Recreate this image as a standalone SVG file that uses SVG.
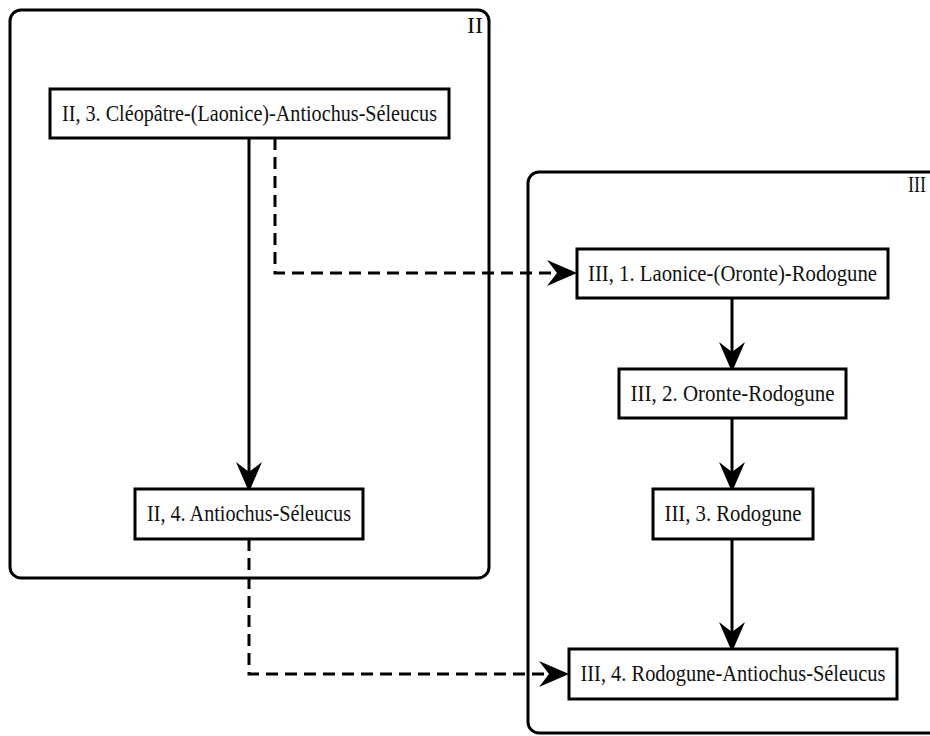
<svg xmlns="http://www.w3.org/2000/svg" width="930" height="736" viewBox="0 0 930 736">
<style>
.cluster{fill:none;stroke:#000;stroke-width:3}
.node rect{fill:#fff;stroke:#000;stroke-width:3}
text{font-family:"Liberation Serif","DejaVu Serif",serif;font-size:23px;fill:#111}
.node text{text-anchor:middle}
.edge{fill:none;stroke:#000;stroke-width:3}
.dash{stroke-dasharray:12,7}
</style>
<defs>
<marker id="vee" viewBox="0 0 30 26" markerWidth="30" markerHeight="26" refX="10" refY="13" orient="auto" markerUnits="userSpaceOnUse">
<path d="M0,0 L30,13 L0,26 L10,13 Z" fill="#000"/>
</marker>
</defs>
<rect fill="#fff" width="930" height="736"/>
<g id="cluster_II">
<rect class="cluster" x="10" y="10" width="479" height="568" rx="11"/>
<text x="483" y="33" text-anchor="end" textLength="16" lengthAdjust="spacingAndGlyphs">II</text>
</g>
<g id="cluster_III">
<rect class="cluster" x="528" y="172" width="420" height="561" rx="11"/>
<text x="926" y="192" text-anchor="end" textLength="18" lengthAdjust="spacingAndGlyphs">III</text>
</g>
<g id="edges">
<path class="edge" d="M249,138 V472" marker-end="url(#vee)"/>
<path class="edge dash" d="M275,138 V273 H557" marker-end="url(#vee)"/>
<path class="edge dash" d="M249,539 V674 H549" marker-end="url(#vee)"/>
<path class="edge" d="M732,298 V352" marker-end="url(#vee)"/>
<path class="edge" d="M732,418 V472" marker-end="url(#vee)"/>
<path class="edge" d="M732,539 V632" marker-end="url(#vee)"/>
</g>
<g id="n_II3" class="node">
<rect x="50" y="89" width="399" height="49"/>
<text x="249.5" y="121" textLength="375" lengthAdjust="spacingAndGlyphs">II, 3. Cléopâtre-(Laonice)-Antiochus-Séleucus</text>
</g>
<g id="n_II4" class="node">
<rect x="135" y="489" width="228" height="50"/>
<text x="249" y="521" textLength="204" lengthAdjust="spacingAndGlyphs">II, 4. Antiochus-Séleucus</text>
</g>
<g id="n_III1" class="node">
<rect x="577" y="249" width="311" height="49"/>
<text x="732.5" y="281" textLength="289" lengthAdjust="spacingAndGlyphs">III, 1. Laonice-(Oronte)-Rodogune</text>
</g>
<g id="n_III2" class="node">
<rect x="619" y="369" width="227" height="49"/>
<text x="732.5" y="401" textLength="204" lengthAdjust="spacingAndGlyphs">III, 2. Oronte-Rodogune</text>
</g>
<g id="n_III3" class="node">
<rect x="653" y="489" width="160" height="50"/>
<text x="733" y="521" textLength="137" lengthAdjust="spacingAndGlyphs">III, 3. Rodogune</text>
</g>
<g id="n_III4" class="node">
<rect x="569" y="649" width="328" height="50"/>
<text x="733" y="681" textLength="305" lengthAdjust="spacingAndGlyphs">III, 4. Rodogune-Antiochus-Séleucus</text>
</g>
</svg>
